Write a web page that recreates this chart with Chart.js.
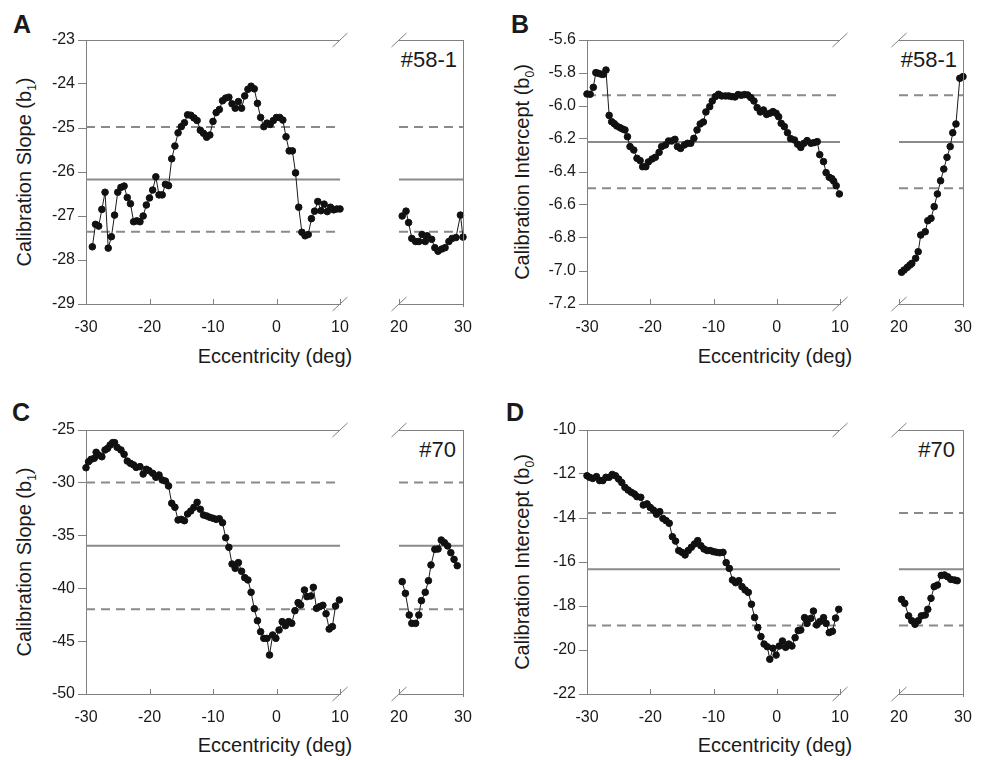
<!DOCTYPE html>
<html lang="en">
<head>
<meta charset="UTF-8">
<title>Calibration slope / intercept vs eccentricity</title>
<script src="https://cdn.jsdelivr.net/npm/chart.js"></script>
<style>
  body { margin: 0; background: #fff; font-family: 'Liberation Sans', Arial, sans-serif; color: #1a1a1a; }
  #wrap { position: relative; width: 985px; height: 760px; overflow: hidden; }
  canvas { position: absolute; }
  .letter { position: absolute; font-weight: bold; font-size: 25px; line-height: 1; }
  .ytitle { position: absolute; font-size: 20px; line-height: 1.2; white-space: nowrap; transform: translate(-50%, -50%) rotate(-90deg); }
  .xtitle { position: absolute; font-size: 20px; line-height: 1.2; white-space: nowrap; transform: translate(-50%, -50%); }
  .tag { position: absolute; font-size: 22px; line-height: 1; transform: translateY(-50%); }
  sub { font-size: 0.6em; }
</style>
</head>
<body>
<div id="wrap">
  <div class="letter" style="left:13px;top:12px">A</div>
  <div class="letter" style="left:511px;top:12px">B</div>
  <div class="letter" style="left:12px;top:400px">C</div>
  <div class="letter" style="left:506px;top:400px">D</div>

  <div class="ytitle" style="left:26px;top:172px">Calibration Slope (b<sub>1</sub>)</div>
  <div class="ytitle" style="left:524px;top:172px">Calibration Intercept (b<sub>0</sub>)</div>
  <div class="ytitle" style="left:26px;top:562px">Calibration Slope (b<sub>1</sub>)</div>
  <div class="ytitle" style="left:524px;top:562px">Calibration Intercept (b<sub>0</sub>)</div>

  <div class="xtitle" style="left:275px;top:356px">Eccentricity (deg)</div>
  <div class="xtitle" style="left:775px;top:356px">Eccentricity (deg)</div>
  <div class="xtitle" style="left:275px;top:745px">Eccentricity (deg)</div>
  <div class="xtitle" style="left:775px;top:745px">Eccentricity (deg)</div>

  <div class="tag" style="right:528px;top:60px">#58-1</div>
  <div class="tag" style="right:28px;top:60px">#58-1</div>
  <div class="tag" style="right:529px;top:450px">#70</div>
  <div class="tag" style="right:30px;top:450px">#70</div>
</div>

<script>
  // ---- Panel A: calibration slope, #58-1 ----
  const aMainX = [-29,-28.5,-28,-27.5,-27,-26.5,-26,-25.5,-25,-24.5,-24,-23.5,-23,-22.5,-22,-21.5,-21,-20.5,-20,-19.5,-19,-18.5,-18,-17.5,-17,-16.5,-16,-15.5,-15,-14.5,-14,-13.5,-13,-12.5,-12,-11.5,-11,-10.5,-10,-9.5,-9,-8.5,-8,-7.5,-7,-6.5,-6,-5.5,-5,-4.5,-4,-3.5,-3,-2.5,-2,-1.5,-1,-0.5,0,0.5,1,1.5,2,2.5,3,3.5,4,4.5,5,5.5,6,6.5,7,7.5,8,8.5,9,9.5,10];
  const aMainY = [-27.70,-27.19,-27.23,-26.85,-26.46,-27.73,-27.47,-26.98,-26.46,-26.35,-26.32,-26.58,-26.72,-27.13,-27.11,-27.13,-27.00,-26.75,-26.59,-26.41,-26.11,-26.52,-26.52,-26.28,-26.31,-25.70,-25.41,-25.11,-24.97,-24.88,-24.70,-24.71,-24.77,-24.83,-25.05,-25.12,-25.21,-25.16,-24.85,-24.65,-24.58,-24.38,-24.32,-24.30,-24.45,-24.55,-24.40,-24.55,-24.27,-24.12,-24.05,-24.11,-24.44,-24.76,-24.97,-24.89,-24.92,-24.83,-24.76,-24.76,-24.82,-25.20,-25.52,-25.52,-26.02,-26.80,-27.37,-27.45,-27.42,-27.06,-26.89,-26.67,-26.88,-26.73,-26.90,-26.80,-26.86,-26.84,-26.84];
  const aSubX = [20.5,21.1,21.5,22,22.6,23.1,23.6,24.1,24.4,25.1,25.6,26.1,26.7,27.2,27.8,28.3,28.9,29.6,30];
  const aSubY = [-27.00,-26.89,-27.15,-27.51,-27.58,-27.58,-27.42,-27.58,-27.45,-27.53,-27.72,-27.80,-27.75,-27.72,-27.58,-27.51,-27.49,-26.98,-27.48];
  const aRefs = [-26.17, -24.98, -27.36]; // mean, upper, lower
  const aTicksY = [-29, -23, 1];          // min, max, step

  // ---- Panel B: calibration intercept, #58-1 ----
  const bMainX = [-30,-29.5,-29,-28.6,-28.2,-27.7,-27.4,-27,-26.5,-26.1,-25.7,-25.3,-24.8,-24.4,-24,-23.6,-23.2,-22.6,-22.1,-21.6,-21.2,-20.7,-20.3,-19.7,-19.2,-18.6,-18.2,-17.6,-17.1,-16.6,-16.1,-15.7,-15.2,-14.6,-14.1,-13.6,-13.1,-12.6,-12.1,-11.6,-11.2,-10.6,-10.2,-9.7,-9.2,-8.7,-8.1,-7.6,-7.1,-6.6,-6.1,-5.6,-5.1,-4.6,-4.1,-3.6,-3.1,-2.6,-2.1,-1.6,-1.1,-0.6,-0.1,0.3,0.7,1.2,1.7,2.2,2.8,3.3,3.8,4.3,4.8,5.4,5.9,6.4,6.8,7.4,7.8,8.3,8.7,9,9.4,9.9];
  const bMainY = [-5.927,-5.929,-5.887,-5.798,-5.802,-5.808,-5.808,-5.782,-6.057,-6.095,-6.107,-6.121,-6.131,-6.139,-6.145,-6.186,-6.246,-6.267,-6.317,-6.331,-6.368,-6.368,-6.339,-6.321,-6.311,-6.281,-6.246,-6.236,-6.212,-6.212,-6.202,-6.246,-6.257,-6.236,-6.226,-6.226,-6.196,-6.145,-6.109,-6.097,-6.036,-6.004,-5.970,-5.943,-5.929,-5.939,-5.939,-5.939,-5.943,-5.945,-5.931,-5.935,-5.931,-5.933,-5.949,-5.970,-6.010,-6.036,-6.024,-6.051,-6.044,-6.034,-6.044,-6.065,-6.105,-6.125,-6.162,-6.198,-6.206,-6.232,-6.251,-6.226,-6.210,-6.226,-6.222,-6.216,-6.295,-6.337,-6.404,-6.432,-6.440,-6.455,-6.483,-6.533];
  const bSubX = [20.4,20.8,21.3,21.7,22,22.6,23,23.4,24.1,24.5,25,25.5,26,26.5,27,27.5,28,28.4,28.9,29.5,30];
  const bSubY = [-7.008,-6.994,-6.978,-6.964,-6.954,-6.923,-6.883,-6.782,-6.762,-6.695,-6.681,-6.610,-6.533,-6.453,-6.382,-6.311,-6.246,-6.162,-6.109,-5.832,-5.822];
  const bRefs = [-6.218, -5.935, -6.499];
  const bTicksY = [-7.2, -5.6, 0.2];

  // ---- Panel C: calibration slope, #70 ----
  const cMainX = [-30,-29.6,-29.2,-28.7,-28.4,-28,-27.5,-27,-26.6,-26.2,-25.8,-25.5,-25.1,-24.5,-24,-23.5,-23,-22.5,-22.1,-21.5,-21,-20.5,-20.1,-19.5,-19,-18.5,-18,-17.5,-17,-16.5,-16,-15.5,-15,-14.5,-14,-13.5,-13,-12.5,-12,-11.5,-11,-10.5,-10,-9.5,-9,-8.5,-8,-7.5,-7,-6.5,-6,-5.5,-5,-4.5,-4,-3.5,-3,-2.5,-2,-1.5,-1.1,-0.6,-0.1,0.4,0.9,1.4,1.9,2.4,2.9,3.4,3.8,4.4,4.8,5.4,5.8,6.3,6.8,7.3,7.8,8.3,8.8,9.3,9.9];
  const cMainY = [-28.57,-28.00,-27.78,-27.68,-27.11,-27.37,-27.53,-26.89,-26.74,-26.42,-26.20,-26.20,-26.64,-26.89,-27.30,-27.94,-28.16,-28.31,-28.54,-28.47,-29.17,-28.72,-28.85,-29.10,-29.48,-29.26,-29.73,-29.83,-30.30,-31.94,-32.32,-33.52,-33.46,-33.59,-32.95,-32.67,-32.32,-31.85,-32.51,-33.05,-33.14,-33.27,-33.36,-33.46,-33.40,-33.78,-35.20,-36.11,-37.69,-38.10,-37.56,-38.38,-38.98,-39.20,-40.37,-41.92,-43.06,-44.10,-44.73,-44.73,-46.31,-44.41,-44.73,-43.94,-43.15,-43.53,-43.15,-43.31,-42.11,-41.35,-41.57,-40.15,-40.78,-40.72,-39.90,-41.89,-41.73,-41.60,-42.40,-43.85,-43.62,-41.67,-41.10];
  const cSubX = [20.5,21,21.6,22,22.6,23.1,23.5,24.1,24.6,25,25.6,26.1,26.6,27.1,27.6,28.1,28.6,29.1];
  const cSubY = [-39.36,-40.47,-42.52,-43.31,-43.31,-42.52,-41.16,-40.37,-39.27,-37.78,-36.30,-36.27,-35.42,-35.67,-35.98,-36.62,-37.25,-37.85];
  const cRefs = [-35.96, -29.96, -41.98];
  const cTicksY = [-50, -25, 5];

  // ---- Panel D: calibration intercept, #70 ----
  const dMainX = [-30,-29.6,-29.1,-28.5,-28,-27.5,-27,-26.5,-26,-25.5,-25,-24.5,-24,-23.5,-23,-22.5,-22.1,-21.5,-21.1,-20.5,-20,-19.5,-19,-18.5,-18,-17.5,-17,-16.5,-16,-15.5,-15,-14.5,-14,-13.5,-13,-12.5,-12,-11.5,-11,-10.5,-10,-9.5,-9,-8.5,-8,-7.5,-7,-6.5,-6,-5.5,-5,-4.5,-4,-3.5,-3,-2.5,-2,-1.5,-1.1,-0.6,-0.1,0.4,0.9,1.4,1.9,2.4,2.9,3.4,3.8,4.4,4.8,5.4,5.8,6.3,6.8,7.4,7.8,8.3,8.8,9.3,9.8];
  const dMainY = [-12.08,-12.15,-12.20,-12.12,-12.30,-12.30,-12.15,-12.15,-12.02,-12.08,-12.23,-12.39,-12.61,-12.73,-12.83,-12.91,-13.03,-13.06,-13.41,-13.36,-13.52,-13.64,-13.83,-13.71,-14.02,-14.12,-14.24,-14.85,-15.05,-15.48,-15.56,-15.68,-15.48,-15.33,-15.18,-15.03,-15.26,-15.41,-15.48,-15.48,-15.53,-15.56,-15.58,-15.56,-16.03,-16.29,-16.82,-16.94,-16.85,-17.12,-17.27,-17.38,-17.92,-18.52,-18.98,-19.39,-19.73,-19.85,-20.42,-19.92,-20.23,-19.82,-19.59,-19.88,-19.73,-19.82,-19.44,-19.12,-19.09,-18.53,-18.79,-18.56,-18.23,-18.86,-18.71,-18.53,-18.79,-19.21,-19.15,-18.55,-18.15];
  const dSubX = [20.4,20.9,21.5,22,22.5,23,23.5,24.1,24.5,25,25.5,26,26.6,27.1,27.6,28.1,28.7,29.1];
  const dSubY = [-17.70,-17.88,-18.45,-18.67,-18.83,-18.67,-18.45,-18.41,-18.15,-17.65,-17.12,-17.05,-16.61,-16.59,-16.67,-16.79,-16.82,-16.85];
  const dRefs = [-16.33, -13.77, -18.89];
  const dTicksY = [-22, -10, 2];

  const mainRange = [-30, 10];
  const subRange = [20, 30];

  const AXIS = '#808080';
  const REF = '#8a8a8a';
  const PAD_TOP = 14;

  Chart.defaults.font.family = "'Liberation Sans', Arial, sans-serif";
  Chart.defaults.font.size = 16;
  Chart.defaults.color = '#1a1a1a';

  // top border, right border (sub plot), break marks and inward x ticks
  Chart.register({
    id: 'frame',
    afterDatasetsDraw(chart, args, opts) {
      const { ctx, chartArea: a } = chart;
      const seg = (x1, y1, x2, y2) => { ctx.beginPath(); ctx.moveTo(x1, y1); ctx.lineTo(x2, y2); ctx.stroke(); };
      ctx.save();
      ctx.strokeStyle = AXIS;
      ctx.lineWidth = 1;
      const top = Math.round(a.top) + 0.5;
      seg(a.left, top, a.right, top);
      if (opts.side === 'sub') {
        const r = Math.round(a.right) + 0.5;
        seg(r, a.top, r, a.bottom + 3);
      }
      const bx = opts.side === 'sub' ? a.left : a.right;
      [a.top, a.bottom].forEach(y => seg(bx - 7.5, y + 7, bx + 7.5, y - 7));
      const xs = chart.scales.x;
      xs.ticks.forEach(t => {
        const px = Math.round(xs.getPixelForValue(t.value)) + 0.5;
        seg(px, a.bottom, px, a.bottom - 5);
      });
      ctx.restore();
    }
  });

  const wrap = document.getElementById('wrap');

  function makeCanvas(left, top, w, h) {
    const c = document.createElement('canvas');
    c.width = w; c.height = h;
    c.style.left = left + 'px'; c.style.top = top + 'px';
    c.style.width = w + 'px'; c.style.height = h + 'px';
    wrap.appendChild(c);
    return c;
  }

  function datasets(xs, ys, refs, range) {
    const pts = xs.map((x, i) => ({ x, y: ys[i] }));
    const ref = (v, dash) => ({
      data: [{ x: range[0], y: v }, { x: range[1], y: v }],
      showLine: true, pointRadius: 0, borderColor: REF, borderWidth: 2, borderDash: dash
    });
    return [
      { data: pts, showLine: true, borderColor: '#1a1a1a', borderWidth: 1,
        pointRadius: 3.3, pointBackgroundColor: '#111', pointBorderColor: '#111', pointBorderWidth: 1, clip: false },
      ref(refs[0], []),
      ref(refs[1], [9, 6]),
      ref(refs[2], [9, 6])
    ];
  }

  function panel(left, plotTop, yWidth, xs, ys, sxs, sys, refs, ticksY, decimals) {
    const yScale = {
      min: ticksY[0], max: ticksY[1],
      ticks: { stepSize: ticksY[2], padding: 3, callback: v => Number(v).toFixed(decimals) },
      grid: { drawOnChartArea: false, drawTicks: true, tickLength: 8, color: AXIS },
      border: { color: AXIS }
    };
    const xScale = (range) => ({
      type: 'linear', min: range[0], max: range[1],
      ticks: { stepSize: 10, padding: 0, font: { lineHeight: 2.9 } },
      grid: { drawOnChartArea: false, drawTicks: false },
      border: { color: AXIS },
      afterFit: s => { s.height = 46; }
    });
    const common = {
      responsive: false, animation: false, devicePixelRatio: 1,
      plugins: { legend: { display: false }, tooltip: { enabled: false } }
    };
    const h = PAD_TOP + 264 + 46;

    new Chart(makeCanvas(left, plotTop - PAD_TOP, 350, h), {
      type: 'scatter',
      data: { datasets: datasets(xs, ys, refs, mainRange) },
      options: Object.assign({}, common, {
        layout: { padding: { top: PAD_TOP, right: 10, left: 0, bottom: 0 } },
        scales: { x: xScale(mainRange), y: Object.assign({}, yScale, { afterFit: s => { s.width = yWidth; } }) },
        plugins: Object.assign({}, common.plugins, { frame: { side: 'main' } })
      })
    });

    new Chart(makeCanvas(left + 389, plotTop - PAD_TOP, 84, h), {
      type: 'scatter',
      data: { datasets: datasets(sxs, sys, refs, subRange) },
      options: Object.assign({}, common, {
        layout: { padding: { top: PAD_TOP, right: 10, left: 10, bottom: 0 } },
        scales: { x: xScale(subRange), y: Object.assign({}, yScale, { display: false }) },
        plugins: Object.assign({}, common.plugins, { frame: { side: 'sub' } })
      })
    });
  }

  panel(0, 40, 86, aMainX, aMainY, aSubX, aSubY, aRefs, aTicksY, 0);
  panel(500, 40, 87, bMainX, bMainY, bSubX, bSubY, bRefs, bTicksY, 1);
  panel(0, 430, 86, cMainX, cMainY, cSubX, cSubY, cRefs, cTicksY, 0);
  panel(500, 430, 87, dMainX, dMainY, dSubX, dSubY, dRefs, dTicksY, 0);
</script>
</body>
</html>
